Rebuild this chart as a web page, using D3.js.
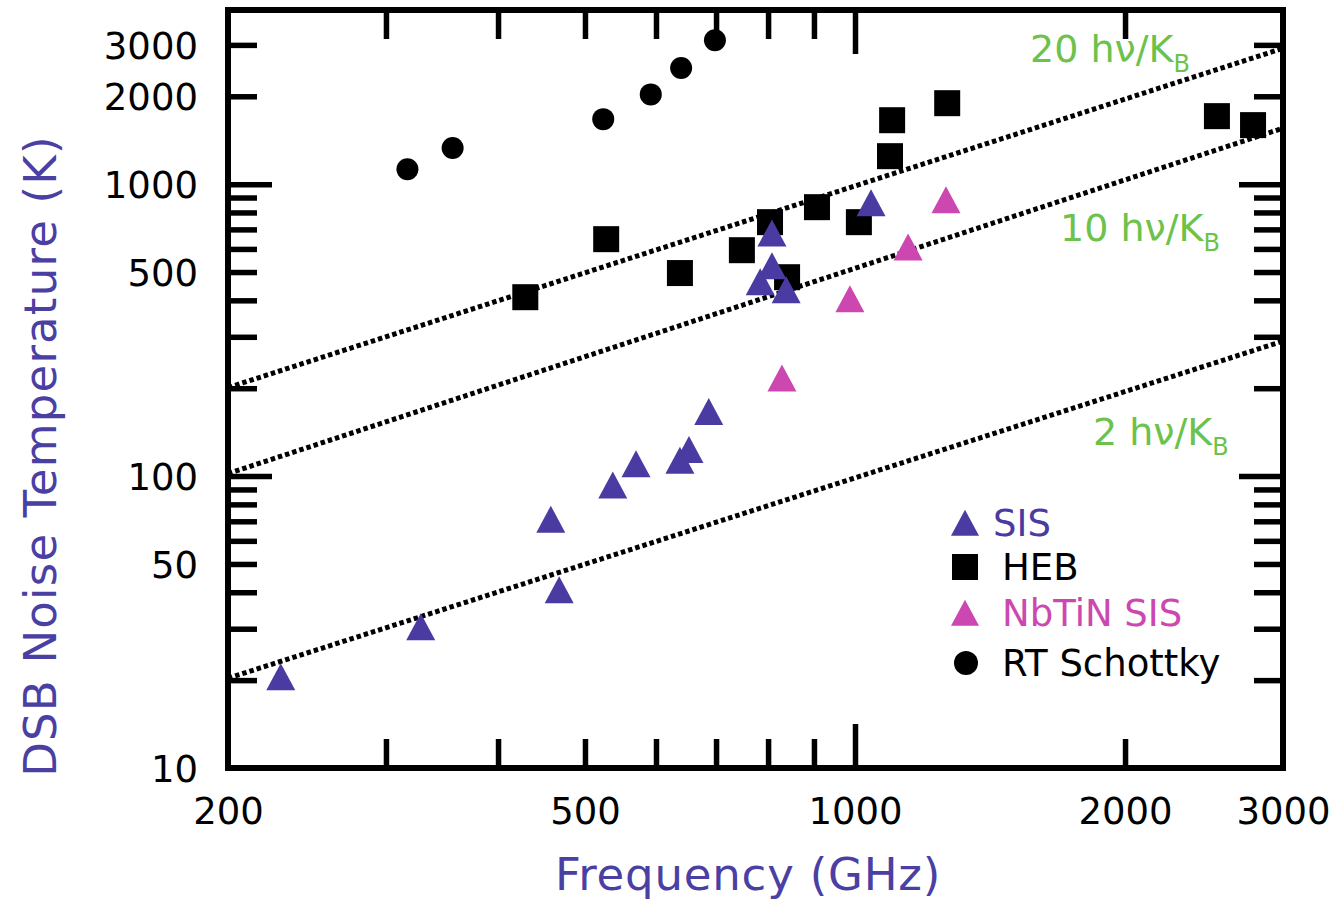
<!DOCTYPE html>
<html><head><meta charset="utf-8">
<script src="https://cdn.jsdelivr.net/npm/d3@7"></script>
<style>html,body{margin:0;padding:0;background:#fff;}svg{display:block;}text{font-family:"DejaVu Sans",sans-serif;}</style>
</head><body>
<svg id="chart" width="1337" height="903"></svg>
<script>
// ---- data ----
const sisFreq   = [229, 328, 458, 468, 537, 570, 638, 653, 687, 784, 808, 808, 838, 1042];
const sisTemp   = [20.5, 30.4, 71, 40.7, 93, 110, 113, 123, 166, 462, 679, 524, 434, 861];
const hebFreq   = [429, 528, 638, 748, 804, 840, 907, 1010, 1094, 1100, 1267, 2532, 2778];
const hebTemp   = [410, 648, 496, 594, 741, 480, 834, 741, 1247, 1656, 1894, 1710, 1593];
const nbtinFreq = [829, 987, 1146, 1263];
const nbtinTemp = [216, 404, 608, 882];
const schFreq   = [317, 356, 524, 592, 640, 698];
const schTemp   = [1125, 1330, 1670, 2030, 2500, 3110];
// reference lines n*h*nu/kB : end points at 200 and 3000 GHz
const refNames  = ["2", "10", "20"];
const refFreq   = [200, 3000];
const refTemp   = [[20.3, 290], [102, 1555], [201, 2920]];
const xTickLabels = [200, 500, 1000, 2000, 3000];
const xMinor      = [300, 400, 500, 600, 700, 800, 900, 2000];
const xMajor      = [1000];
const yTickLabels = [10, 50, 100, 500, 1000, 2000, 3000];
const yMinor      = [20,30,40,50,60,70,80,90,200,300,400,500,600,700,800,900,2000,3000];
const yMajor      = [100, 1000];
const legendNames = ["SIS", "HEB", "NbTiN SIS", "RT Schottky"];

// ---- layout ----
const L = 228, R = 1283, T = 10, B = 768;
const cSIS = "#4a3ba2", cNb = "#cc48b0", cGreen = "#6cc24a", cTitle = "#4a40a4";
const svg = d3.select("#chart");
const x = d3.scaleLog().domain([200, 3000]).range([L, R]);
const y = d3.scaleLog().domain([10, 3950]).range([B, T]);

const plot = svg.append("g");
plot.append("clipPath").attr("id","clip").append("rect")
  .attr("x", L).attr("y", T).attr("width", R-L).attr("height", B-T);

// reference dotted lines
const lineGen = d3.line().x(d => x(d[0])).y(d => y(d[1]));
refTemp.forEach(tt => {
  plot.append("path").attr("d", lineGen(refFreq.map((f,i)=>[f, tt[i]])))
    .attr("fill","none").attr("stroke","#000").attr("stroke-width",5)
    .attr("stroke-dasharray","4.5,3").attr("clip-path","url(#clip)");
});

// custom triangle symbol (slightly taller than equilateral)
function triType(w, h){
  return { draw(ctx){ ctx.moveTo(0, -h*0.55); ctx.lineTo(w/2, h*0.45); ctx.lineTo(-w/2, h*0.45); ctx.closePath(); } };
}
const tri = d3.symbol().type(triType(29, 27));
const sqSize = 26, circR = 11;
function triangles(fx, ty, color){
  plot.selectAll(null).data(fx.map((f,i)=>[f, ty[i]])).enter().append("path")
    .attr("d", tri).attr("fill", color)
    .attr("transform", d => `translate(${x(d[0])},${y(d[1])+1})`);
}
plot.selectAll(null).data(hebFreq.map((f,i)=>[f, hebTemp[i]])).enter().append("rect")
  .attr("x", d => x(d[0]) - sqSize/2).attr("y", d => y(d[1]) - sqSize/2)
  .attr("width", sqSize).attr("height", sqSize).attr("fill", "#000");
plot.selectAll(null).data(schFreq.map((f,i)=>[f, schTemp[i]])).enter().append("circle")
  .attr("cx", d => x(d[0])).attr("cy", d => y(d[1])).attr("r", circR).attr("fill", "#000");
triangles(sisFreq, sisTemp, cSIS);
triangles(nbtinFreq, nbtinTemp, cNb);

// ---- axes ----
const minorLen = 29, majorLen = 44, tickW = 5.5;
const axB = svg.append("g").attr("transform", `translate(0,${B})`)
  .call(d3.axisTop(x).tickValues(xMinor).tickSize(minorLen).tickFormat(""));
const axB2 = svg.append("g").attr("transform", `translate(0,${B})`)
  .call(d3.axisTop(x).tickValues(xMajor).tickSize(majorLen).tickFormat(""));
const axT = svg.append("g").attr("transform", `translate(0,${T})`)
  .call(d3.axisBottom(x).tickValues(xMinor).tickSize(minorLen).tickFormat(""));
const axT2 = svg.append("g").attr("transform", `translate(0,${T})`)
  .call(d3.axisBottom(x).tickValues(xMajor).tickSize(majorLen).tickFormat(""));
const axL = svg.append("g").attr("transform", `translate(${L},0)`)
  .call(d3.axisRight(y).tickValues(yMinor).tickSize(minorLen).tickFormat(""));
const axL2 = svg.append("g").attr("transform", `translate(${L},0)`)
  .call(d3.axisRight(y).tickValues(yMajor).tickSize(majorLen).tickFormat(""));
const axR = svg.append("g").attr("transform", `translate(${R},0)`)
  .call(d3.axisLeft(y).tickValues(yMinor).tickSize(minorLen).tickFormat(""));
const axR2 = svg.append("g").attr("transform", `translate(${R},0)`)
  .call(d3.axisLeft(y).tickValues(yMajor).tickSize(majorLen).tickFormat(""));
[axB,axB2,axT,axT2,axL,axL2,axR,axR2].forEach(a => {
  a.select(".domain").remove();
  a.selectAll(".tick line").attr("stroke","#000").attr("stroke-width",tickW);
});

// tick labels via axes (no lines)
const labX = svg.append("g").attr("transform", `translate(0,${B})`)
  .call(d3.axisBottom(x).tickValues(xTickLabels).tickSize(0).tickPadding(56).tickFormat(d3.format("d")));
labX.select(".domain").remove();
labX.selectAll("text").attr("font-size",37).attr("fill","#000")
  .attr("font-family","DejaVu Sans").attr("dy", 0);
const labY = svg.append("g").attr("transform", `translate(${L},0)`)
  .call(d3.axisLeft(y).tickValues(yTickLabels).tickSize(0).tickPadding(30).tickFormat(d3.format("d")));
labY.select(".domain").remove();
labY.selectAll("text").attr("font-size",37).attr("fill","#000")
  .attr("font-family","DejaVu Sans").attr("dy","0.36em");

// frame
svg.append("rect").attr("x",L).attr("y",T).attr("width",R-L).attr("height",B-T)
  .attr("fill","none").attr("stroke","#000").attr("stroke-width",6);

// axis titles
svg.append("text").attr("transform","translate(56,456) rotate(-90)")
  .attr("text-anchor","middle").attr("font-size",45).attr("fill",cTitle)
  .attr("letter-spacing",1.2)
  .text("DSB Noise Temperature (K)");
svg.append("text").attr("x",748).attr("y",890)
  .attr("text-anchor","middle").attr("font-size",45).attr("fill",cTitle)
  .attr("letter-spacing",0.8)
  .text("Frequency (GHz)");

// reference line labels
const refLabelPos = [[1093,445],[1060,241],[1030,62]];
refNames.forEach((n,i) => {
  const t = svg.append("text").attr("x",refLabelPos[i][0]).attr("y",refLabelPos[i][1])
    .attr("font-size",38).attr("fill",cGreen);
  t.append("tspan").text(n + " h\u03BD/K");
  t.append("tspan").attr("font-size",24).attr("dy",10).text("B");
});

// legend
const legY = [523, 567, 613, 663];
const legCol = [cSIS, "#000", cNb, "#000"];
const legTextX = [993, 1002, 1002, 1002];
const leg = svg.append("g");
const legTri = d3.symbol().type(triType(28, 26));
legendNames.forEach((name,i) => {
  const cy = legY[i];
  if (i === 0 || i === 2) {
    leg.append("path").attr("d", legTri())
      .attr("transform",`translate(965,${cy+1})`).attr("fill", legCol[i]);
  } else if (i === 1) {
    leg.append("rect").attr("x",965-13).attr("y",cy-13).attr("width",26).attr("height",26).attr("fill","#000");
  } else {
    leg.append("circle").attr("cx",966).attr("cy",cy).attr("r",12).attr("fill","#000");
  }
  leg.append("text").attr("x",legTextX[i]).attr("y",cy+13).attr("font-size",37)
    .attr("fill",legCol[i]).text(name);
});
</script>
</body></html>
